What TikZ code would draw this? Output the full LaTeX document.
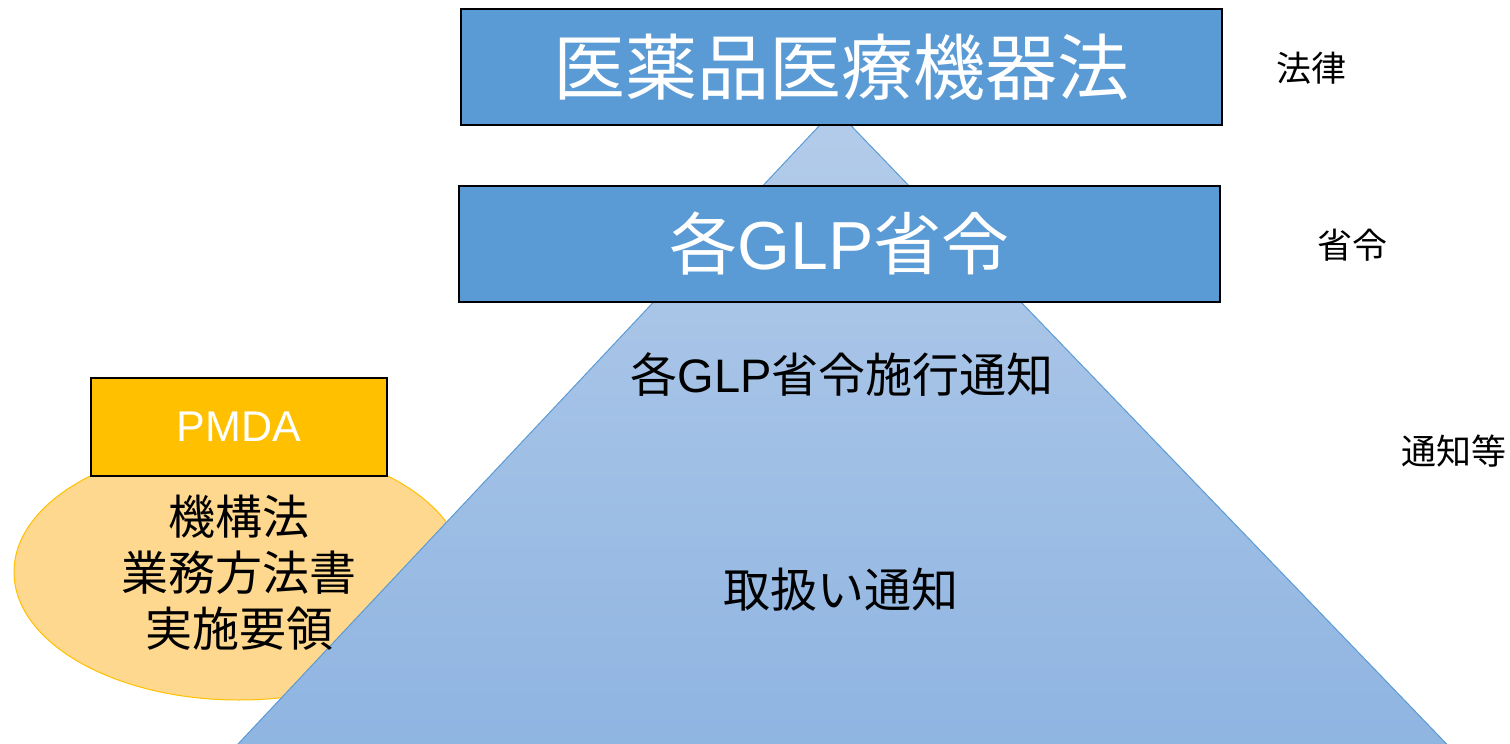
\documentclass[tikz,border=0pt]{standalone}
\usepackage{fontspec}
\setmainfont{Noto Sans CJK JP}
\newfontfamily\lat{Liberation Sans}
\usetikzlibrary{shapes.geometric}
\definecolor{boxblue}{HTML}{5B9BD5}
\definecolor{edgeblue}{HTML}{5B9BD5}
\definecolor{pyrtop}{RGB}{180,204,234}
\definecolor{pyrbot}{RGB}{142,180,225}
\definecolor{pmdaorange}{HTML}{FFC000}
\definecolor{ellfill}{HTML}{FFD88F}
\begin{document}
\begin{tikzpicture}[x=1bp,y=-1bp,
  blbox/.style={draw=black, line width=2bp, fill=boxblue, minimum width=761bp, minimum height=116bp, inner sep=0pt, text=white},
  side/.style={font=\fontsize{35bp}{40bp}\selectfont, inner sep=0pt},
  body/.style={font=\fontsize{47bp}{56bp}\selectfont, inner sep=0pt, align=center}]
\useasboundingbox (0,0) rectangle (1510,744);
\clip (0,0) rectangle (1510,744);
% ellipse (PMDA)
\node[ellipse, draw=pmdaorange, line width=1bp, fill=ellfill, minimum width=450bp, minimum height=256bp, inner sep=0pt] (ell) at (239,572) {};
% pyramid
\coordinate (apex) at (835,109);
\coordinate (bl) at (223,760);
\coordinate (br) at (1462,760);
\draw[draw=edgeblue, line width=1bp, top color=pyrtop, bottom color=pyrbot] (apex) -- (bl) -- (br) -- cycle;
% boxes
\node[blbox, font=\fontsize{72bp}{80bp}\selectfont] (law) at (841.5,67) {医薬品医療機器法};
\node[blbox, font=\fontsize{68bp}{76bp}\selectfont] (ord) at (839.5,244) {各{\lat GLP}省令};
\node[draw=black, line width=2bp, fill=pmdaorange, minimum width=296bp, minimum height=98bp, inner sep=0pt, text=white, font=\fontsize{43bp}{50bp}\selectfont\lat] (pmda) at (239,427) {PMDA};
% texts
\node[body] (elltext) at (239,573) {機構法\\業務方法書\\実施要領};
\node[body] (shiko) at (842,375) {各{\lat GLP}省令施行通知};
\node[body] (toriatsukai) at (841,590) {取扱い通知};
\node[side] (l1) at (1311,68) {法律};
\node[side] (l2) at (1352,245) {省令};
\node[side] (l3) at (1454,451) {通知等};
\end{tikzpicture}
\end{document}
